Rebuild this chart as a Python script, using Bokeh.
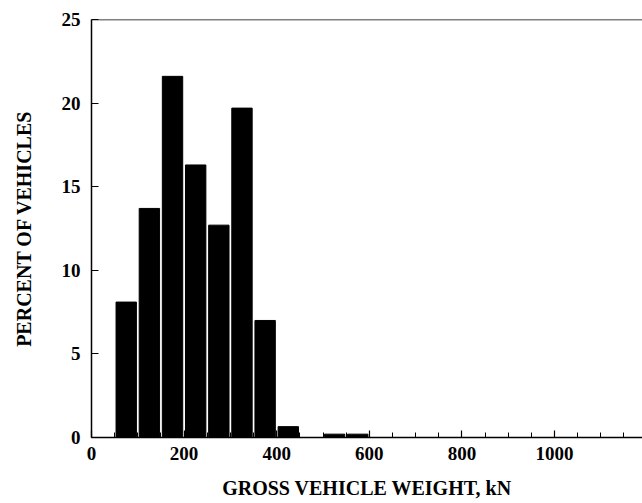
from bokeh.plotting import figure
from bokeh.models import Range1d, SingleIntervalTicker, Span
from bokeh.embed import file_html
from bokeh.resources import INLINE

# Gross vehicle weight bins (kN, bin centres) and percent of vehicles
gvw_bin_centers = [75, 125, 175, 225, 275, 325, 375, 425, 525, 575]
percent_vehicles = [8.1, 13.7, 21.6, 16.3, 12.7, 19.7, 7.0, 0.65, 0.2, 0.2]
bin_width = 44

x_ticks = [0, 200, 400, 600, 800, 1000]
y_ticks = [0, 5, 10, 15, 20, 25]

FONT = "Liberation Serif"

p = figure(width=642, height=503, output_backend="svg", toolbar_location=None,
           x_range=Range1d(0, 1190), y_range=Range1d(0, 25),
           min_border_left=91, min_border_right=0, min_border_top=19, min_border_bottom=66)
p.outline_line_color = None
p.grid.visible = False
p.background_fill_color = "white"
p.border_fill_color = "white"

p.vbar(x=gvw_bin_centers, top=percent_vehicles, bottom=0, width=bin_width,
       fill_color="black", line_color="black")

p.add_layout(Span(location=25, dimension="width", line_color="black", line_width=1.5))

p.xaxis.ticker = SingleIntervalTicker(interval=200, num_minor_ticks=4)
p.yaxis.ticker = SingleIntervalTicker(interval=5, num_minor_ticks=0)

for ax in (p.xaxis, p.yaxis):
    ax.axis_line_color = "black"
    ax.axis_line_width = 1.5
    ax.major_tick_line_color = "black"
    ax.major_tick_line_width = 1.2
    ax.minor_tick_line_color = "black"
    ax.major_tick_in = 7
    ax.major_tick_out = 0
    ax.minor_tick_in = 5
    ax.minor_tick_out = 0
    ax.major_label_text_font = FONT
    ax.major_label_text_font_style = "bold"
    ax.major_label_text_font_size = "19px"
    ax.major_label_text_color = "black"
    ax.axis_label_text_font = FONT
    ax.axis_label_text_font_style = "bold"
    ax.axis_label_text_font_size = "20px"
    ax.axis_label_text_color = "black"

p.yaxis.minor_tick_line_color = None
p.xaxis.axis_label = "GROSS VEHICLE WEIGHT, kN"
p.yaxis.axis_label = "PERCENT OF VEHICLES"
p.xaxis.major_label_standoff = 9
p.yaxis.major_label_standoff = 11
p.xaxis.axis_label_standoff = 14
p.yaxis.axis_label_standoff = 24

open("out.html", "w").write(file_html(p, INLINE))
